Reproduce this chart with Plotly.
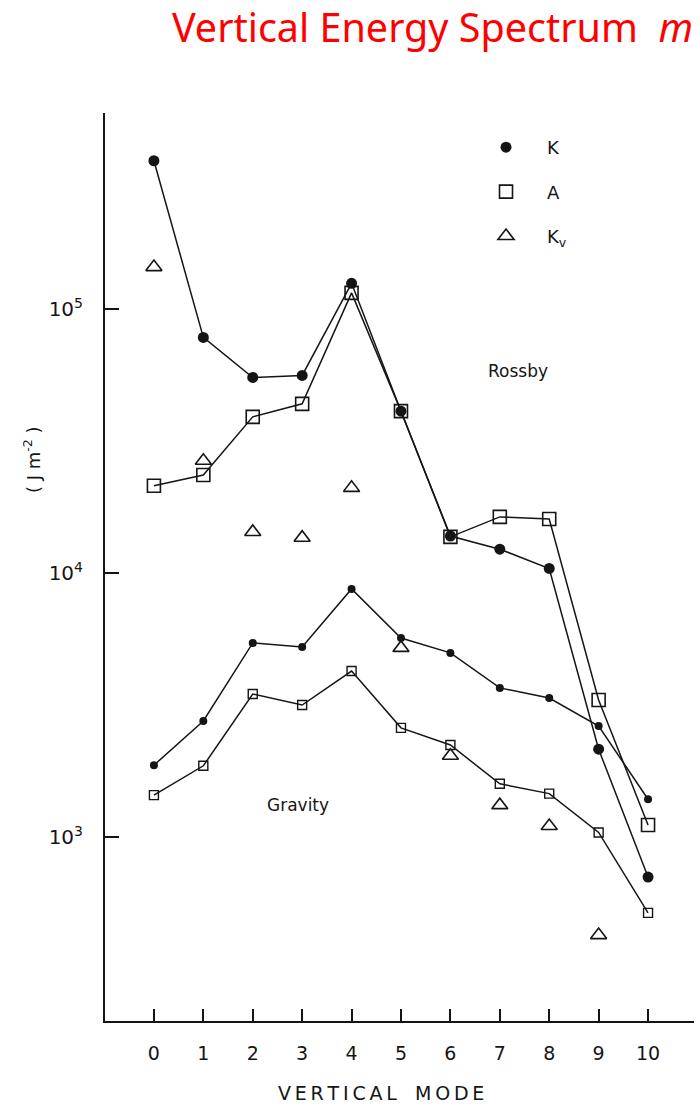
import plotly.graph_objects as go

modes = list(range(11))
mode_ticks = [str(m) for m in modes]

# Rossby waves
rossby_K = [3.64e5, 7.8e4, 5.5e4, 5.6e4, 1.25e5, 4.1e4, 1.38e4, 1.23e4, 1.04e4, 2150, 705]
rossby_A = [2.14e4, 2.35e4, 3.9e4, 4.37e4, 1.15e5, 4.1e4, 1.37e4, 1.63e4, 1.60e4, 3300, 1110]
# vertical kinetic energy (modes 0-9)
kv_modes = list(range(10))
Kv = [1.44e5, 2.66e4, 1.43e4, 1.36e4, 2.1e4, 5200, 2030, 1320, 1100, 425]
# Gravity waves
gravity_K = [1870, 2750, 5430, 5240, 8700, 5670, 4980, 3670, 3360, 2630, 1390]
gravity_A = [1440, 1860, 3480, 3160, 4250, 2590, 2230, 1590, 1460, 1040, 516]

y_tickvals = [1e3, 1e4, 1e5]
y_ticktext = ["10<sup>3</sup>", "10<sup>4</sup>", "10<sup>5</sup>"]

INK = "#151515"
FONT = "DejaVu Sans"
TS = "\u2009"  # thin space for letter spacing

fig = go.Figure()

line = dict(color=INK, width=1.5)

fig.add_trace(go.Scatter(x=modes, y=rossby_K, mode="lines+markers", showlegend=False,
                         line=line, marker=dict(symbol="circle", size=11, color=INK)))
fig.add_trace(go.Scatter(x=modes, y=rossby_A, mode="lines+markers", showlegend=False,
                         line=line, marker=dict(symbol="square-open", size=13, color=INK,
                                                line=dict(width=1.6, color=INK))))
fig.add_trace(go.Scatter(x=modes, y=gravity_K, mode="lines+markers", showlegend=False,
                         line=line, marker=dict(symbol="circle", size=8, color=INK)))
fig.add_trace(go.Scatter(x=modes, y=gravity_A, mode="lines+markers", showlegend=False,
                         line=line, marker=dict(symbol="square-open", size=9, color=INK,
                                                line=dict(width=1.4, color=INK))))
fig.add_trace(go.Scatter(x=kv_modes, y=Kv, mode="markers", showlegend=False,
                         marker=dict(symbol="triangle-up-open", size=14, color=INK,
                                     line=dict(width=1.6, color=INK))))

# legend entries (markers only)
fig.add_trace(go.Scatter(x=[None], y=[None], mode="markers", name="K", legendgroup="k",
                         marker=dict(symbol="circle", size=11, color=INK)))
fig.add_trace(go.Scatter(x=[None], y=[None], mode="markers", name="A", legendgroup="a",
                         marker=dict(symbol="square-open", size=13, color=INK,
                                     line=dict(width=1.6, color=INK))))
fig.add_trace(go.Scatter(x=[None], y=[None], mode="markers", name="K<sub>v</sub>", legendgroup="kv",
                         marker=dict(symbol="triangle-up-open", size=14, color=INK,
                                     line=dict(width=1.6, color=INK))))

fig.update_layout(
    width=700, height=1109,
    margin=dict(l=105, r=6, t=113, b=88),
    paper_bgcolor="white", plot_bgcolor="white",
    font=dict(family=FONT, size=18, color=INK),
    title=dict(text="Vertical Energy Spectrum  <i>m</i>", font=dict(family="Noto Sans", size=39.5, color="#ff0000"),
               x=0.99, xref="container", xanchor="right", y=1 - 28 / 1109, yref="container", yanchor="middle"),
    showlegend=True,
    legend=dict(x=(465 - 105) / 589, y=0.9824, xanchor="left", yanchor="top", bgcolor="rgba(0,0,0,0)",
                tracegroupgap=18, font=dict(family=FONT, size=18, color=INK), itemwidth=72),
)

fig.update_xaxes(range=[-0.99, 10.93], tickvals=modes, ticktext=mode_ticks,
                 showline=True, linecolor=INK, linewidth=2, showgrid=False, zeroline=False,
                 ticks="inside", ticklen=12, tickwidth=1.5, tickcolor=INK,
                 ticklabelstandoff=14, tickfont=dict(family=FONT, size=19, color=INK))
fig.update_yaxes(type="log", range=[2.303, 5.742], tickvals=y_tickvals, ticktext=y_ticktext,
                 showline=True, linecolor=INK, linewidth=2, showgrid=False, zeroline=False,
                 ticks="inside", ticklen=14, tickwidth=1.5, tickcolor=INK,
                 ticklabelstandoff=16, tickfont=dict(family=FONT, size=20, color=INK))

fig.add_annotation(text=TS.join("VERTICAL") + "   " + TS.join("MODE"), xref="paper", yref="paper",
                   x=(381 - 105) / 589, y=-(1093 - 1021) / 908, xanchor="center", yanchor="middle",
                   showarrow=False, font=dict(family=FONT, size=19, color=INK))
fig.add_annotation(text="( J m<sup>-2</sup> )", xref="paper", yref="paper", textangle=-90,
                   x=(32 - 105) / 589, y=(1021 - 460) / 908, xanchor="center", yanchor="middle",
                   showarrow=False, font=dict(family=FONT, size=18, color=INK))
fig.add_annotation(text="Rossby", xref="paper", yref="paper",
                   x=(518 - 105) / 589, y=(1021 - 371) / 908, xanchor="center", yanchor="middle",
                   showarrow=False, font=dict(family=FONT, size=17, color=INK))
fig.add_annotation(text="Gravity", xref="paper", yref="paper",
                   x=(298 - 105) / 589, y=(1021 - 805) / 908, xanchor="center", yanchor="middle",
                   showarrow=False, font=dict(family=FONT, size=17, color=INK))

fig.write_html("out.html")
